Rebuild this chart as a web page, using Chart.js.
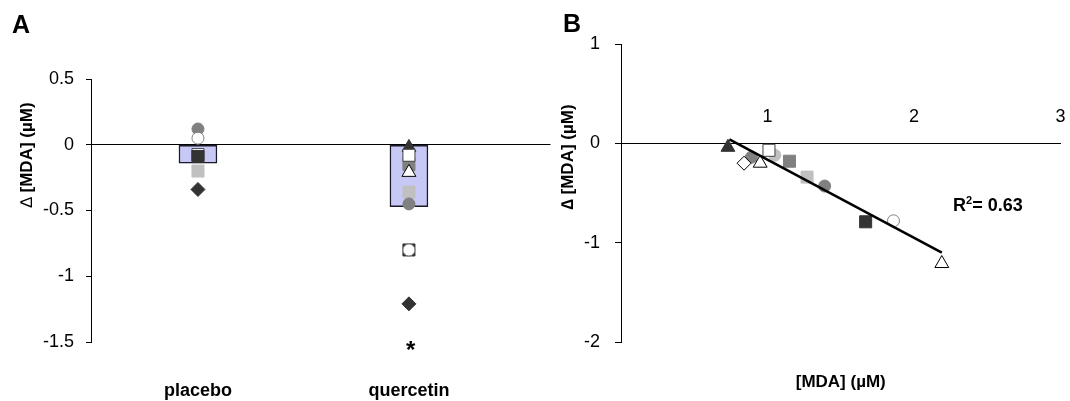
<!DOCTYPE html>
<html lang="en">
  <head>
    <meta charset="UTF-8" />
    <title>MDA change with placebo and quercetin</title>
    <script src="https://cdn.jsdelivr.net/npm/chart.js"></script>
    <style>
      body {
        margin: 0;
        background: #fff;
        color: #000;
        font-family: "Liberation Sans", Arial, sans-serif;
      }
      .wrap { position: relative; width: 1070px; height: 401px; overflow: hidden; }
      canvas { position: absolute; top: 0; }
      #chartA { left: 0; }
      #chartB { left: 550px; }
      .panel { position: absolute; font-weight: bold; font-size: 25px; line-height: 1; }
      .ytitle {
        position: absolute;
        font-weight: bold;
        font-size: 17px;
        line-height: 1;
        white-space: nowrap;
        transform: translate(-50%, -50%) rotate(-90deg);
      }
      .note { position: absolute; font-weight: bold; line-height: 1; white-space: nowrap; }
    </style>
  </head>
  <body>
    <div class="wrap">
      <canvas id="chartA" width="560" height="401"></canvas>
      <canvas id="chartB" width="520" height="401"></canvas>
      <div class="panel" style="left:12px; top:12px;">A</div>
      <div class="panel" style="left:563px; top:11px;">B</div>
      <div class="ytitle" style="left:26px; top:155px;"><span style="font-weight:normal">∆</span> [MDA] (µM)</div>
      <div class="ytitle" style="left:567px; top:157px;">∆ [MDA] (µM)</div>
      <div class="note" style="left:406px; top:338px; font-size:24px;">*</div>
      <div class="note" style="left:953px; top:195px; font-size:18px;">R<sup style="font-size:11px">2</sup>= 0.63</div>
    </div>

    <script>
      // panel A: change in MDA per group
      const groups = ['placebo', 'quercetin'];
      const groupMeans = [-0.14, -0.47];
      const placeboChange = [0.12, 0.05, -0.075, -0.09, -0.2, -0.34];
      const placeboMarkers = ['grayCircle', 'whiteCircle', 'whiteSquare', 'darkSquare', 'lightSquare', 'darkDiamond'];
      const quercetinChange = [-0.02, -0.15, -0.08, -0.21, -0.36, -0.45, -0.8, -0.8, -1.21];
      const quercetinMarkers = ['darkTriangle', 'graySquare', 'whiteSquare', 'whiteTriangle', 'lightSquare', 'grayCircle', 'darkSquare', 'whiteCircle', 'darkDiamond'];

      // panel B: baseline MDA vs change
      const baselineMDA = [0.73, 0.89, 0.84, 0.95, 1.05, 1.01, 1.15, 1.27, 1.39, 1.67, 1.86, 2.19];
      const mdaChange = [-0.04, -0.14, -0.2, -0.2, -0.12, -0.07, -0.18, -0.34, -0.43, -0.79, -0.78, -1.21];
      const corrMarkers = ['darkTriangle', 'grayCircle', 'whiteDiamond', 'whiteTriangle', 'lightCircle', 'whiteSquare',
        'graySquare', 'lightSquare', 'grayCircle', 'darkSquare', 'whiteCircle', 'whiteTriangle'];
      const fitX = [0.74, 2.19];
      const fitY = [0.04, -1.1];
      const xTicksB = [1, 2, 3];

      const markerStyles = {
        darkTriangle: { shape: 'triangle', fill: '#333333', line: '#333333', r: 8 },
        darkSquare: { shape: 'rect', fill: '#333333', line: '#333333', r: 8.5 },
        darkDiamond: { shape: 'rectRot', fill: '#333333', line: '#333333', r: 7 },
        grayCircle: { shape: 'circle', fill: '#808080', line: '#808080', r: 6 },
        graySquare: { shape: 'rect', fill: '#808080', line: '#808080', r: 8.5 },
        lightCircle: { shape: 'circle', fill: '#c0c0c0', line: '#c0c0c0', r: 6 },
        lightSquare: { shape: 'rect', fill: '#c0c0c0', line: '#c0c0c0', r: 8.5 },
        whiteCircle: { shape: 'circle', fill: '#ffffff', line: '#808080', r: 6 },
        whiteSquare: { shape: 'rect', fill: '#ffffff', line: '#404040', r: 8.5 },
        whiteTriangle: { shape: 'triangle', fill: '#ffffff', line: '#000000', r: 8 },
        whiteDiamond: { shape: 'rectRot', fill: '#ffffff', line: '#000000', r: 7 }
      };

      const fontFamily = "'Liberation Sans', Arial, sans-serif";
      Chart.defaults.font.family = fontFamily;
      Chart.defaults.color = '#000';

      function markerSet(points, keys, order) {
        return {
          type: 'scatter',
          data: points,
          order: order,
          pointStyle: keys.map(k => markerStyles[k].shape),
          pointRadius: keys.map(k => markerStyles[k].r),
          pointHoverRadius: keys.map(k => markerStyles[k].r),
          pointBackgroundColor: keys.map(k => markerStyles[k].fill),
          pointBorderColor: keys.map(k => markerStyles[k].line),
          pointBorderWidth: 1
        };
      }

      function fixWidth(w) {
        return s => { s.width = w; s.paddingTop = 0; s.paddingBottom = 0; };
      }
      function fixHeight(h) {
        return s => { s.height = h; s.paddingLeft = 0; s.paddingRight = 0; };
      }

      new Chart(document.getElementById('chartA'), {
        type: 'bar',
        data: {
          datasets: [
            markerSet(placeboChange.map(v => ({ x: 1, y: v })), placeboMarkers, 0),
            markerSet(quercetinChange.map(v => ({ x: 2, y: v })), quercetinMarkers, 0),
            {
              type: 'bar',
              data: groupMeans.map((v, i) => ({ x: i + 1, y: v })),
              backgroundColor: '#c8c8f6',
              borderColor: '#1a1a2a',
              borderWidth: 1.5,
              borderSkipped: false,
              barThickness: 38,
              order: 1
            }
          ]
        },
        options: {
          responsive: false,
          animation: false,
          layout: { padding: { top: 79, right: 5, bottom: 0, left: 0 } },
          plugins: { legend: { display: false }, tooltip: { enabled: false } },
          scales: {
            x: {
              type: 'linear',
              min: 0.493,
              max: 2.671,
              offset: false,
              afterBuildTicks: s => { s.ticks = groups.map((g, i) => ({ value: i + 1 })); },
              ticks: {
                callback: v => groups[v - 1],
                font: { size: 18, weight: 'bold' },
                padding: 30,
                maxRotation: 0
              },
              grid: { display: false, offset: false },
              border: { display: false },
              afterFit: fixHeight(59)
            },
            y: {
              min: -1.5,
              max: 0.5,
              ticks: { stepSize: 0.5, font: { size: 18 }, padding: 12, callback: v => String(v) },
              grid: {
                color: ctx => (ctx.tick && ctx.tick.value === 0 ? '#000' : 'rgba(0,0,0,0)'),
                tickColor: '#000',
                tickLength: 5,
                lineWidth: 1
              },
              border: { color: '#000', width: 1 },
              afterFit: fixWidth(91)
            }
          }
        }
      });

      new Chart(document.getElementById('chartB'), {
        type: 'scatter',
        data: {
          datasets: [
            {
              type: 'line',
              data: fitX.map((x, i) => ({ x: x, y: fitY[i] })),
              borderColor: '#000',
              borderWidth: 2.5,
              pointRadius: 0,
              fill: false,
              order: 0
            },
            markerSet(baselineMDA.map((x, i) => ({ x: x, y: mdaChange[i] })), corrMarkers, 1)
          ]
        },
        options: {
          responsive: false,
          animation: false,
          layout: { padding: { top: 44, right: 3, bottom: 0, left: 0 } },
          plugins: { legend: { display: false }, tooltip: { enabled: false } },
          scales: {
            x: {
              type: 'linear',
              axis: 'x',
              position: { y: 0 },
              min: 0,
              max: 3,
              afterBuildTicks: s => { s.ticks = xTicksB.map(v => ({ value: v })); },
              ticks: { font: { size: 18 }, padding: -37, maxRotation: 0 },
              grid: { drawOnChartArea: false, drawTicks: false },
              border: { color: '#000', width: 1 },
              afterFit: fixHeight(0)
            },
            x2: {
              type: 'linear',
              axis: 'x',
              position: 'bottom',
              min: 0,
              max: 3,
              ticks: { display: false },
              grid: { display: false },
              border: { display: false },
              title: {
                display: true,
                text: '[MDA] (µM)',
                font: { size: 17, weight: 'bold' },
                padding: { top: 4, bottom: 8 }
              },
              afterFit: fixHeight(59)
            },
            y: {
              min: -2,
              max: 1,
              ticks: { stepSize: 1, font: { size: 18 }, padding: 15 },
              grid: { drawOnChartArea: false, color: '#000', tickColor: '#000', tickLength: 6 },
              border: { color: '#000', width: 1 },
              afterFit: fixWidth(71)
            }
          }
        }
      });
    </script>
  </body>
</html>
